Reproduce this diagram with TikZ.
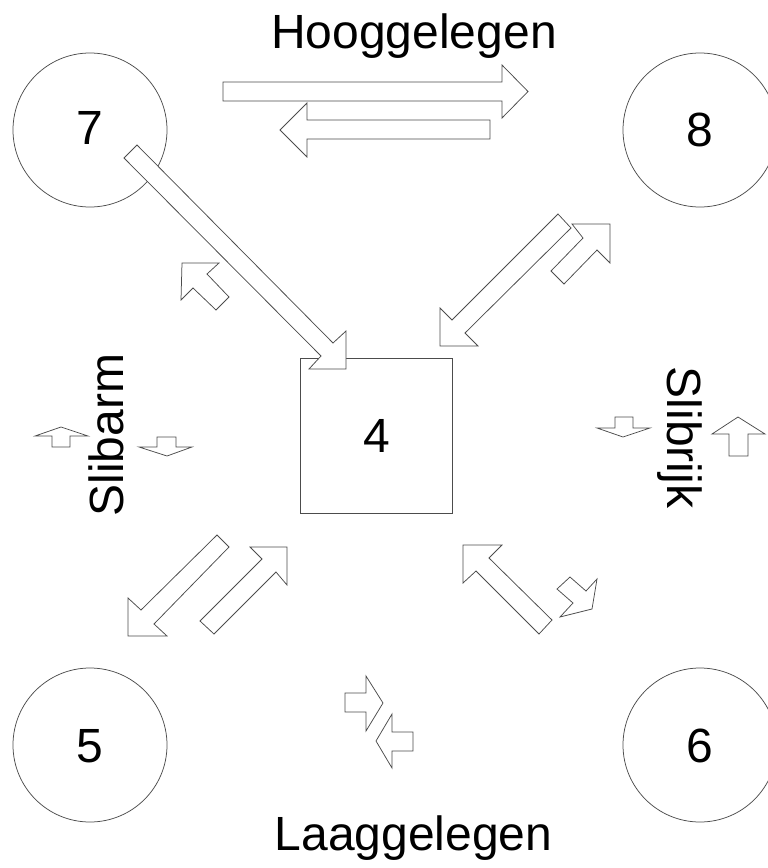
\documentclass[tikz,border=0pt]{standalone}
\usepackage{fontspec}
\setmainfont{Liberation Sans}
\begin{document}
\begin{tikzpicture}[x=1pt,y=-1pt,
  outl/.style={draw=black!70,line width=0.75pt},
  ring/.style={outl,circle,minimum size=154pt,inner sep=0pt},
  box4/.style={outl,rectangle,minimum width=152pt,minimum height=155pt,inner sep=0pt},
  arr/.style={outl,fill=white,line join=miter},
  lbl/.style={font=\fontsize{48}{58}\selectfont,inner sep=0pt,anchor=base}]
\useasboundingbox (0,0) rectangle (768,868);
\clip (0,0) rectangle (768,868);
% circles and square
\node[ring] (c7) at (90,130) {};
\node[ring] (c8) at (700,130) {};
\node[ring] (c5) at (90,745) {};
\node[ring] (c6) at (700,745) {};
\node[box4] (sq4) at (376,435.5) {};
% numbers
\node[lbl] (t7) at (90,144) {7};
\node[lbl] (t8) at (700,146) {8};
\node[lbl] (t4) at (377,452) {4};
\node[lbl] (t5) at (90,762) {5};
\node[lbl] (t6) at (700,762) {6};
% titles
\node[lbl] (hoog) at (414,48) {Hooggelegen};
\node[lbl] (laag) at (413.5,850) {Laaggelegen};
\node[lbl,rotate=90] (arm) at (123,435) {Slibarm};
\node[lbl,rotate=-90] (rijk) at (667,437.5) {Slibrijk};
% top horizontal arrows
\draw[arr] (223,82) -- (502,82) -- (502,65) -- (528,91.5) -- (502,118) -- (502,101) -- (223,101) -- cycle;
\draw[arr] (490,120) -- (307,120) -- (307,103) -- (280,130) -- (307,157) -- (307,139) -- (490,139) -- cycle;
% 7 -> 4
\draw[arr] (137,145) -- (333,343) -- (346,331) -- (346,369) -- (309,369) -- (321,356) -- (124,158) -- cycle;
% small arrow near 7
\draw[arr] (229,297) -- (207,274) -- (219,263) -- (182,263) -- (181,300) -- (193,288) -- (216,310) -- cycle;
% 4 <-> 8
\draw[arr] (558,214) -- (452,320) -- (440,308) -- (440,346) -- (478,346) -- (465,333) -- (571,228) -- cycle;
\draw[arr] (551,271) -- (583,238) -- (572,224) -- (610,224) -- (610,263) -- (597,250) -- (564,284) -- cycle;
% Slibarm arrows
\draw[arr] (52,447) -- (52,436) -- (35,436) -- (61,427) -- (88,436) -- (70,436) -- (70,447) -- cycle;
\draw[arr] (157,437) -- (176,437) -- (176,447) -- (192,447) -- (167,456) -- (139,447) -- (157,447) -- cycle;
% Slibrijk arrows
\draw[arr] (615,417) -- (633,417) -- (633,428) -- (650,428) -- (623,437) -- (597,428) -- (615,428) -- cycle;
\draw[arr] (729,456) -- (729,434) -- (712,434) -- (738,417) -- (765,434) -- (748,434) -- (748,456) -- cycle;
% 4 <-> 5
\draw[arr] (217,535) -- (141,610) -- (128,598) -- (128,636) -- (167,636) -- (154,624) -- (229,547) -- cycle;
\draw[arr] (200,621) -- (262,559) -- (250,547) -- (287,547) -- (287,585) -- (276,572) -- (214,634) -- cycle;
% 4 <-> 6
\draw[arr] (552,620) -- (489,558) -- (502,545) -- (463,545) -- (463,583) -- (476,571) -- (539,634) -- cycle;
\draw[arr] (570,577) -- (586,591) -- (597,579) -- (592,609) -- (560,617) -- (573,603) -- (557,589) -- cycle;
% 5 <-> 6
\draw[arr] (345,693) -- (366,693) -- (366,676) -- (383,703) -- (366,731) -- (366,712) -- (345,712) -- cycle;
\draw[arr] (413,732) -- (392,732) -- (392,714) -- (376,741) -- (392,768) -- (392,751) -- (413,751) -- cycle;
\end{tikzpicture}
\end{document}
